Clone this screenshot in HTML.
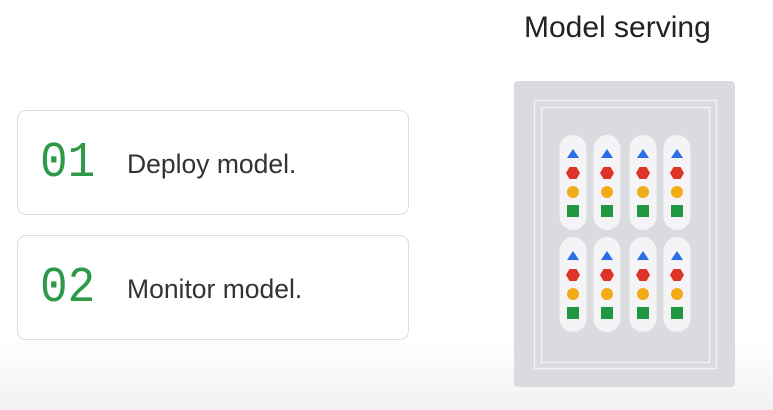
<!DOCTYPE html>
<html><head><style>
body{margin:0;width:773px;height:410px;overflow:hidden;background:linear-gradient(#fff 0,#fff 340px,#f1f1f1 410px);font-family:"Liberation Sans",sans-serif;position:relative}
.card{position:absolute;left:17px;width:392px;height:105px;border:1.5px solid #ddd;border-radius:9px;background:#fff;box-sizing:border-box}
.num{position:absolute;left:22px;top:26px;font-family:"Liberation Mono",monospace;font-size:50px;color:#2e9a47;line-height:54px;transform:scaleX(0.92);transform-origin:left}
.txt{position:absolute;left:109px;top:38px;font-size:26.5px;color:#333;line-height:30px}
.title{position:absolute;left:524px;top:11px;font-size:30px;color:#222;line-height:34px}
</style></head><body>
<div class="card" style="top:110px"><div class="num">01</div><div class="txt">Deploy model.</div></div>
<div class="card" style="top:235px"><div class="num">02</div><div class="txt">Monitor model.</div></div>
<div class="title">Model serving</div>
<svg style="position:absolute;left:0;top:0" width="773" height="410">
<defs>
<g id="c">
<rect x="-13.5" y="0" width="27" height="95" rx="13.5" fill="#f4f4f6"/>
<polygon points="0,14 6,23 -6,23" fill="#2a6de6"/>
<polygon points="-3.5,32 3.5,32 7,38 3.5,44 -3.5,44 -7,38" fill="#dc3528"/>
<circle cx="0" cy="57" r="6" fill="#f2aa16"/>
<rect x="-6" y="70" width="12" height="12" fill="#1f9640"/>
</g>
</defs>
<rect x="514" y="81" width="221" height="306" rx="4" fill="#dadbde"/>
<rect x="534.5" y="100.5" width="182" height="268" fill="none" stroke="#f2f2f4" stroke-width="1.5"/>
<rect x="541.5" y="107.5" width="168" height="255" fill="none" stroke="#f2f2f4" stroke-width="1.5"/>
<use href="#c" transform="translate(573,135)"/>
<use href="#c" transform="translate(607,135)"/>
<use href="#c" transform="translate(643,135)"/>
<use href="#c" transform="translate(677,135)"/>
<use href="#c" transform="translate(573,237)"/>
<use href="#c" transform="translate(607,237)"/>
<use href="#c" transform="translate(643,237)"/>
<use href="#c" transform="translate(677,237)"/>
</svg>
</body></html>
